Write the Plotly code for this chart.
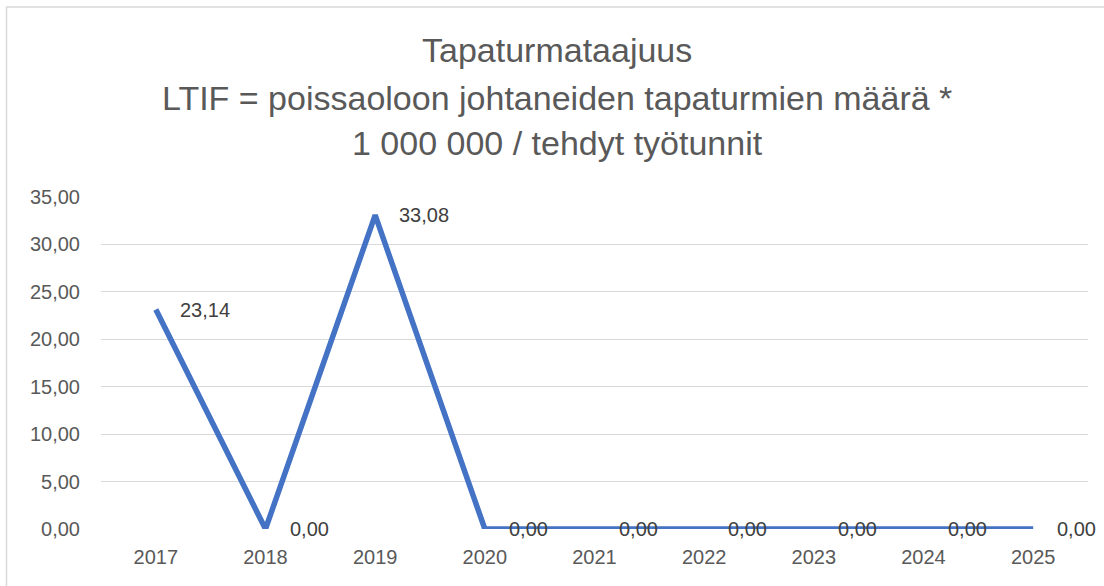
import plotly.graph_objects as go

years = ["2017", "2018", "2019", "2020", "2021", "2022", "2023", "2024", "2025"]
ltif = [23.14, 0.00, 33.08, 0.00, 0.00, 0.00, 0.00, 0.00, 0.00]
y_ticks = [0, 5, 10, 15, 20, 25, 30, 35]
y_tick_labels = ["0,00", "5,00", "10,00", "15,00", "20,00", "25,00", "30,00", "35,00"]
title_lines = ["Tapaturmataajuus",
               "LTIF = poissaoloon johtaneiden tapaturmien määrä *",
               "1 000 000 / tehdyt työtunnit"]

FONT = "Liberation Sans"
L, R, T, B = 101, 16, 197, 57
W, H = 1104, 586
pw, ph = W - L - R, H - T - B

def px(x):
    return (x - L) / pw

def py(y):
    return (H - B - y) / ph

fig = go.Figure()
fig.add_trace(go.Scatter(
    x=years, y=ltif, mode="lines",
    line=dict(color="#4472C4", width=5.5),
    hoverinfo="x+y", showlegend=False, cliponaxis=False,
))

annotations = []
for i, v in enumerate(ltif):
    annotations.append(dict(
        x=i, y=v, xref="x", yref="y",
        text=f"{v:.2f}".replace(".", ","),
        showarrow=False, xanchor="left", yanchor="middle",
        xshift=22, font=dict(family=FONT, size=20, color="#404040"),
    ))
for line, ypos in zip(title_lines, [50, 98, 143]):
    annotations.append(dict(
        x=px(557), y=py(ypos), xref="paper", yref="paper",
        text=line, showarrow=False, xanchor="center", yanchor="middle",
        font=dict(family=FONT, size=34, color="#595959"),
    ))

fig.update_layout(
    width=W, height=H,
    margin=dict(l=L, r=R, t=T, b=B, autoexpand=False),
    paper_bgcolor="white", plot_bgcolor="white",
    annotations=annotations,
    shapes=[dict(type="rect", xref="paper", yref="paper",
                 x0=px(6.5), x1=px(1112), y0=py(600), y1=py(7),
                 line=dict(color="#D9D9D9", width=1.5), layer="below")],
    xaxis=dict(
        type="category", range=[-0.5, 8.5],
        showgrid=False, zeroline=False, showline=False, ticks="",
        tickfont=dict(family=FONT, size=20, color="#595959"),
        ticklabelstandoff=14,
    ),
    yaxis=dict(
        range=[0, 35], tickvals=y_ticks, ticktext=y_tick_labels,
        showgrid=True, gridcolor="#D9D9D9", gridwidth=1.3,
        zeroline=False, showline=False, ticks="",
        tickfont=dict(family=FONT, size=20, color="#595959"),
        ticklabelstandoff=20,
    ),
)

fig.write_html("out.html", config={"displayModeBar": False},
               post_script="document.body.style.margin='0';document.body.style.overflow='hidden';")
